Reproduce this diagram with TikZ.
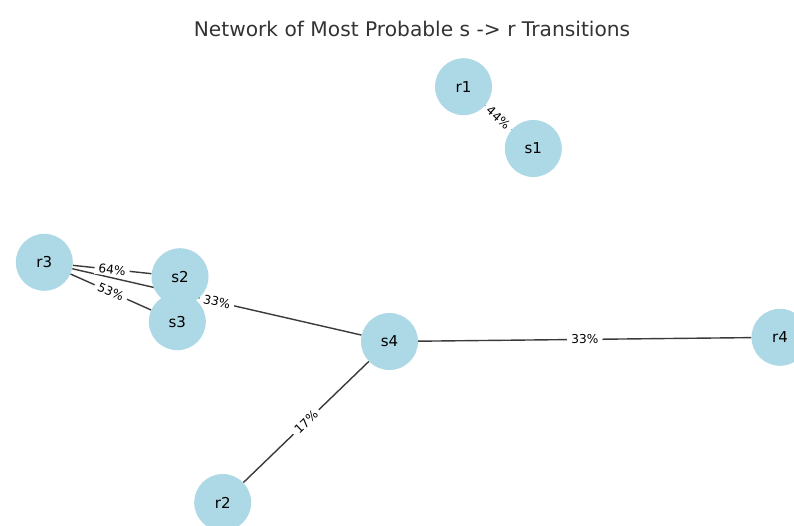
\documentclass[tikz,border=0pt]{standalone}
\usepackage{fontspec}
\setmainfont{DejaVu Sans}
\pgfdeclarelayer{bg}
\pgfdeclarelayer{lab}
\pgfsetlayers{bg,lab,main}
\definecolor{nodeblue}{HTML}{ADD8E6}
\definecolor{edgegray}{HTML}{3A3A3A}
\definecolor{titlegray}{HTML}{333333}
\begin{document}
\begin{tikzpicture}[x=1pt,y=-1pt,
  vtx/.style={circle, fill=nodeblue, minimum size=57pt, inner sep=0pt, font=\fontsize{15}{15}\selectfont},
  edge/.style={draw=edgegray, line width=1.4pt},
  lbl/.style={fill=white, inner xsep=4pt, inner ysep=1.5pt, font=\fontsize{12.2}{12.2}\selectfont, sloped, midway}]
\useasboundingbox (0,0) rectangle (794,525);
\node[font=\fontsize{20.2}{20.2}\selectfont, text=titlegray] (title) at (412,29) {Network of Most Probable s -> r Transitions};
\node[vtx] (r1) at (463.5,86.7) {r1};
\node[vtx] (s1) at (533.3,148.5) {s1};
\node[vtx] (r3) at (44.3,262.3) {r3};
\node[vtx] (s2) at (180,276.7) {s2};
\node[vtx] (s3) at (177.3,321.7) {s3};
\node[vtx] (s4) at (389.5,341.5) {s4};
\node[vtx] (r4) at (780,337.3) {r4};
\node[vtx] (r2) at (222.7,502.5) {r2};
\begin{pgfonlayer}{bg}
\draw[edge] (r1) -- (s1);
\draw[edge] (r3) -- (s2);
\draw[edge] (r3) -- (s3);
\draw[edge] (r3) -- (s4);
\draw[edge] (s4) -- (r4);
\draw[edge] (s4) -- (r2);
\end{pgfonlayer}
\begin{pgfonlayer}{lab}
\path (r1) -- (s1) node[lbl] (l1) {44\%};
\path (r3) -- (s2) node[lbl] (l2) {64\%};
\path (r3) -- (s3) node[lbl] (l3) {53\%};
\path (r3) -- (s4) node[lbl] (l4) {33\%};
\path (s4) -- (r4) node[lbl] (l5) {33\%};
\path (s4) -- (r2) node[lbl] (l6) {17\%};
\end{pgfonlayer}
\end{tikzpicture}
\end{document}
